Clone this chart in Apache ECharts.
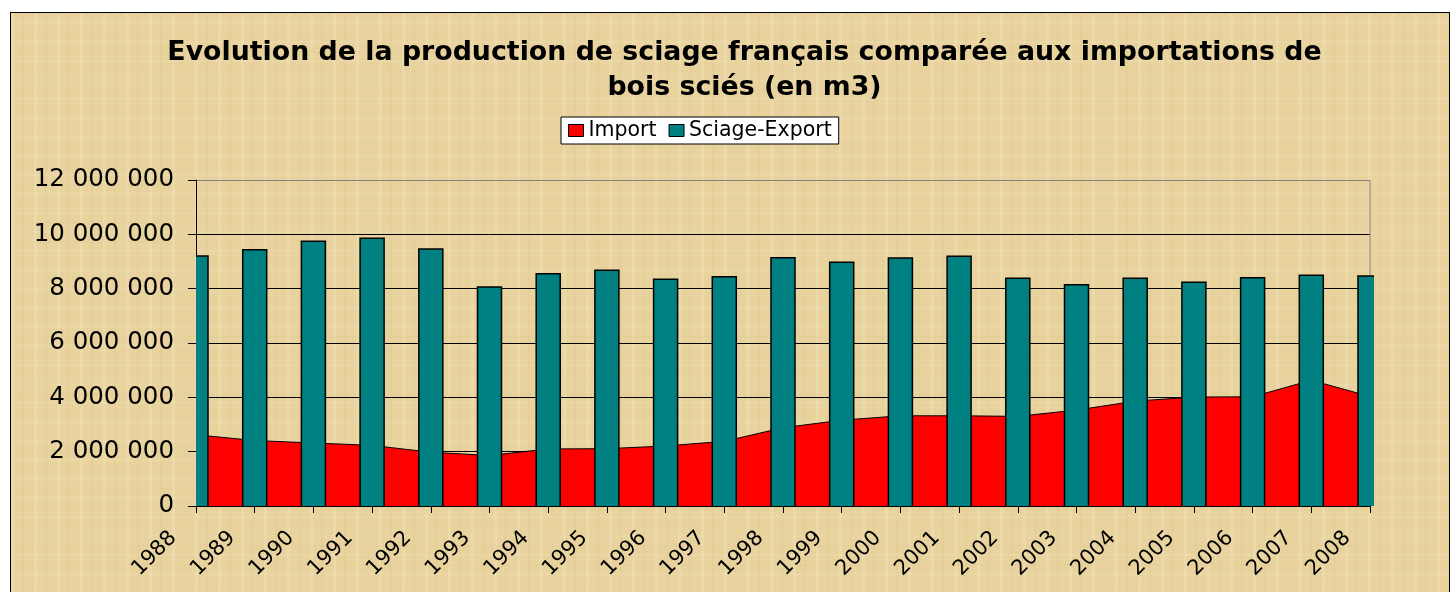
<!DOCTYPE html>
<html>
<head>
<meta charset="utf-8">
<script src="https://cdn.jsdelivr.net/npm/echarts@6/dist/echarts.min.js"></script>
<style>
  html, body { margin: 0; padding: 0; background: #ffffff; width: 1452px; height: 592px; overflow: hidden; }
  #paper {
    position: absolute; left: 10px; top: 12px; width: 1438px; height: 600px;
    border: 1px solid #000;
    background-color: #E8D39E;
    background-image:
      repeating-linear-gradient(90deg, rgba(255,248,225,0.16) 0px, rgba(255,248,225,0.16) 3px, rgba(0,0,0,0) 3px, rgba(0,0,0,0) 11px, rgba(200,170,100,0.08) 11px, rgba(200,170,100,0.08) 13px, rgba(0,0,0,0) 13px, rgba(0,0,0,0) 23px),
      repeating-linear-gradient(0deg, rgba(255,248,225,0.10) 0px, rgba(255,248,225,0.10) 2px, rgba(0,0,0,0) 2px, rgba(0,0,0,0) 9px, rgba(200,170,100,0.06) 9px, rgba(200,170,100,0.06) 11px, rgba(0,0,0,0) 11px, rgba(0,0,0,0) 19px);
  }
  #chart { position: absolute; left: 0; top: 0; width: 1452px; height: 592px; }
</style>
</head>
<body>
<div id="paper"></div>
<div id="chart"></div>
<script>
// ---- data ----
const years = ['1988','1989','1990','1991','1992','1993','1994','1995','1996','1997','1998','1999','2000','2001','2002','2003','2004','2005','2006','2007','2008'];
const importValues = [2620000, 2410000, 2320000, 2230000, 1980000, 1860000, 2100000, 2110000, 2210000, 2380000, 2880000, 3160000, 3320000, 3320000, 3300000, 3530000, 3860000, 4010000, 4020000, 4630000, 4030000];
const sciageExportValues = [9200000, 9430000, 9750000, 9860000, 9460000, 8060000, 8550000, 8680000, 8350000, 8440000, 9140000, 8970000, 9130000, 9190000, 8380000, 8140000, 8380000, 8240000, 8400000, 8490000, 8470000];
const seriesNames = ['Import', 'Sciage-Export'];
const titleText = 'Evolution de la production de sciage français comparée aux importations de\nbois sciés (en m3)';

function fmt(v) { return String(v).replace(/\B(?=(\d{3})+(?!\d))/g, ' '); }

const BAR_W = 24;
function renderBar(params, api) {
  const top = api.coord([api.value(0), api.value(1)]);
  const base = api.coord([api.value(0), 0]);
  const cs = params.coordSys;
  let x0 = top[0] - BAR_W / 2, x1 = top[0] + BAR_W / 2;
  const cx0 = cs.x, cx1 = cs.x + cs.width + 4;
  const lOut = x0 < cx0, rOut = x1 > cx1;
  x0 = Math.max(x0, cx0); x1 = Math.min(x1, cx1);
  const y0 = top[1], y1 = base[1];
  const pts = [];
  if (!lOut) pts.push([x0, y1]);
  pts.push([x0, y0]); pts.push([x1, y0]);
  if (!rOut) pts.push([x1, y1]);
  return {
    type: 'group',
    children: [
      { type: 'rect', shape: { x: x0, y: y0, width: x1 - x0, height: y1 - y0 }, style: { fill: '#008080' } },
      { type: 'polyline', shape: { points: pts }, style: { stroke: '#000', lineWidth: 1.5, fill: null } }
    ]
  };
}

const chart = echarts.init(document.getElementById('chart'), null, { renderer: 'canvas' });
chart.setOption({
  backgroundColor: 'transparent',
  animation: false,
  title: {
    text: titleText,
    left: 744.5,
    top: 36,
    padding: 0,
    textAlign: 'center',
    textStyle: { fontFamily: 'DejaVu Sans', fontWeight: 'bold', fontSize: 26.8, lineHeight: 35, color: '#000' }
  },
  legend: {
    data: seriesNames.map(n => ({ name: n, icon: 'rect' })),
    left: 561, top: 117,
    padding: [3, 7, 3, 7],
    itemGap: 12,
    itemWidth: 15, itemHeight: 12,
    backgroundColor: '#ffffff',
    borderColor: '#000', borderWidth: 1, borderRadius: 0,
    itemStyle: { borderColor: '#000', borderWidth: 1 },
    textStyle: { fontFamily: 'DejaVu Sans', fontSize: 20.5, color: '#000' }
  },
  grid: { left: 196, right: 82, top: 180, bottom: 86, containLabel: false, show: false },
  xAxis: {
    type: 'category',
    data: years,
    boundaryGap: false,
    axisLine: { lineStyle: { color: '#000', width: 1 } },
    axisTick: { show: true, length: 7, lineStyle: { color: '#000' } },
    axisLabel: { rotate: 45, interval: 0, margin: 6, padding: [0, 32, 0, 0],
                 fontFamily: 'DejaVu Sans', fontSize: 21, color: '#000' },
    splitLine: { show: false }
  },
  yAxis: {
    type: 'value',
    min: 0, max: 12000000, interval: 2000000,
    axisLine: { show: true, lineStyle: { color: '#000', width: 1 } },
    axisTick: { show: true, length: 8, lineStyle: { color: '#000' } },
    axisLabel: { margin: 22, fontFamily: 'DejaVu Sans', fontSize: 24.5, color: '#000', formatter: fmt },
    splitLine: { show: true, lineStyle: { color: ['#000','#000','#000','#000','#000','#000','#808080'], width: 1 } }
  },
  series: [
    {
      name: seriesNames[0],
      type: 'line',
      data: importValues,
      symbol: 'none',
      itemStyle: { color: '#ff0000' },
      lineStyle: { color: '#000', width: 1 },
      areaStyle: { color: '#ff0000', opacity: 1 },
      z: 2
    },
    {
      name: seriesNames[1],
      type: 'custom',
      data: years.map((y, i) => [y, sciageExportValues[i]]),
      encode: { x: 0, y: 1 },
      renderItem: renderBar,
      itemStyle: { color: '#008080' },
      clip: false,
      z: 3
    }
  ],
  graphic: [
    { type: 'line', shape: { x1: 1370, y1: 180, x2: 1370, y2: 506 }, style: { stroke: '#808080', lineWidth: 1 }, z: 1 }
  ]
});
</script>
</body>
</html>
